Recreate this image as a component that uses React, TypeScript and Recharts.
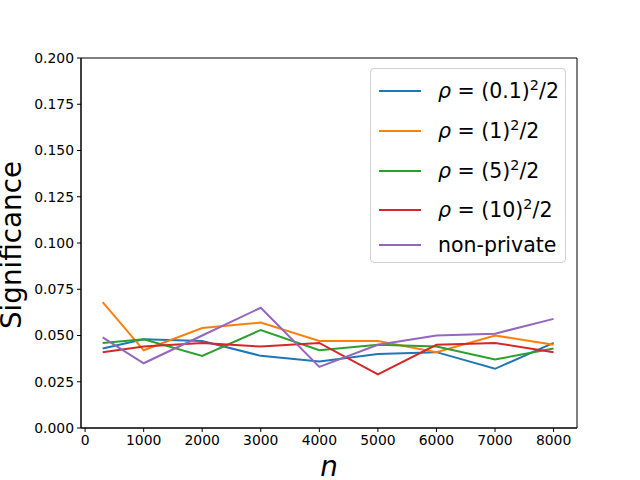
import React from 'react';
import { LineChart, Line, XAxis, YAxis, ReferenceArea } from 'recharts';

const sampleSizes = [300, 1000, 2000, 3000, 4000, 5000, 6000, 7000, 8000];
const rho01 = [0.043, 0.048, 0.047, 0.039, 0.036, 0.040, 0.041, 0.032, 0.046];
const rho1 = [0.068, 0.042, 0.054, 0.057, 0.047, 0.047, 0.041, 0.050, 0.045];
const rho5 = [0.046, 0.048, 0.039, 0.053, 0.042, 0.045, 0.044, 0.037, 0.043];
const rho10 = [0.041, 0.044, 0.046, 0.044, 0.046, 0.029, 0.045, 0.046, 0.041];
const nonPrivate = [0.049, 0.035, 0.050, 0.065, 0.033, 0.045, 0.050, 0.051, 0.059];

const xTicks = [0, 1000, 2000, 3000, 4000, 5000, 6000, 7000, 8000];
const yTicks = [0, 0.025, 0.05, 0.075, 0.1, 0.125, 0.15, 0.175, 0.2];

const seriesKeys = ['rho01', 'rho1', 'rho5', 'rho10', 'nonPrivate'];
const seriesColors = ['#1f77b4', '#ff7f0e', '#2ca02c', '#d62728', '#9467bd'];
const rhoBases = ['0.1', '1', '5', '10'];

const data = sampleSizes.map((n, i) => ({
  n,
  rho01: rho01[i],
  rho1: rho1[i],
  rho5: rho5[i],
  rho10: rho10[i],
  nonPrivate: nonPrivate[i],
}));

const font = 'DejaVu Sans, sans-serif';
const xDomain = [-70, 8400];

const RhoLabel: React.FC<{ base: string }> = ({ base }) => (
  <span>
    <i>ρ</i>
    {' = ('}
    {base}
    {')'}
    <span style={{ fontSize: '70%', position: 'relative', top: '-0.55em' }}>2</span>
    {'/2'}
  </span>
);

const rowTops = [22, 62, 102, 141, 176];

const App: React.FC = () => {
  const tickStyle = { fontSize: 13.9, fill: '#000', fontFamily: font };
  return (
    <div style={{ position: 'relative', width: 640, height: 480, background: '#fff', fontFamily: font }}>
      <style>{'body{margin:0}'}</style>
      <LineChart width={640} height={480} data={data} margin={{ top: 58, right: 63, left: 0, bottom: 0 }}>
        <XAxis
          dataKey="n"
          type="number"
          domain={xDomain}
          ticks={xTicks}
          allowDataOverflow
          height={52}
          tick={tickStyle}
          tickLine={{ stroke: '#000' }}
          axisLine={{ stroke: '#000' }}
          tickSize={4}
          tickMargin={3}
        />
        <YAxis
          type="number"
          domain={[0, 0.2]}
          ticks={yTicks}
          allowDataOverflow
          width={81}
          tick={tickStyle}
          tickLine={{ stroke: '#000' }}
          axisLine={{ stroke: '#000' }}
          tickSize={4}
          tickMargin={3}
          tickFormatter={(v: number) => v.toFixed(3)}
        />
        <ReferenceArea x1={xDomain[0]} x2={xDomain[1]} y1={0} y2={0.2} fill="none" stroke="#000" strokeWidth={1} />
        {seriesKeys.map((k, i) => (
          <Line
            key={k}
            type="linear"
            dataKey={k}
            stroke={seriesColors[i]}
            strokeWidth={2}
            dot={false}
            isAnimationActive={false}
          />
        ))}
      </LineChart>
      <div
        style={{
          position: 'absolute',
          left: 0,
          top: 245,
          width: 25,
          height: 0,
          display: 'flex',
          justifyContent: 'center',
          alignItems: 'center',
        }}
      >
        <div style={{ transform: 'rotate(-90deg)', fontSize: 27.8, whiteSpace: 'nowrap', lineHeight: '24px' }}>
          Significance
        </div>
      </div>
      <div
        style={{
          position: 'absolute',
          left: 0,
          width: 658,
          top: 454,
          textAlign: 'center',
          fontSize: 27.8,
          fontStyle: 'italic',
          lineHeight: '25px',
        }}
      >
        n
      </div>
      <div
        style={{
          position: 'absolute',
          left: 370,
          top: 68,
          width: 194,
          height: 193,
          border: '1px solid #d0d0d0',
          borderRadius: 4,
          background: 'rgba(255,255,255,0.8)',
        }}
      >
        {seriesKeys.map((k, i) => (
          <div
            key={k}
            style={{
              position: 'absolute',
              left: 0,
              top: rowTops[i],
              height: 0,
              display: 'flex',
              alignItems: 'center',
              whiteSpace: 'nowrap',
            }}
          >
            <div style={{ marginLeft: 8, width: 42, height: 2, background: seriesColors[i] }} />
            <div style={{ marginLeft: 17, fontSize: 20.5, lineHeight: 1 }}>
              {i < rhoBases.length ? <RhoLabel base={rhoBases[i]} /> : 'non-private'}
            </div>
          </div>
        ))}
      </div>
    </div>
  );
};

export default App;
